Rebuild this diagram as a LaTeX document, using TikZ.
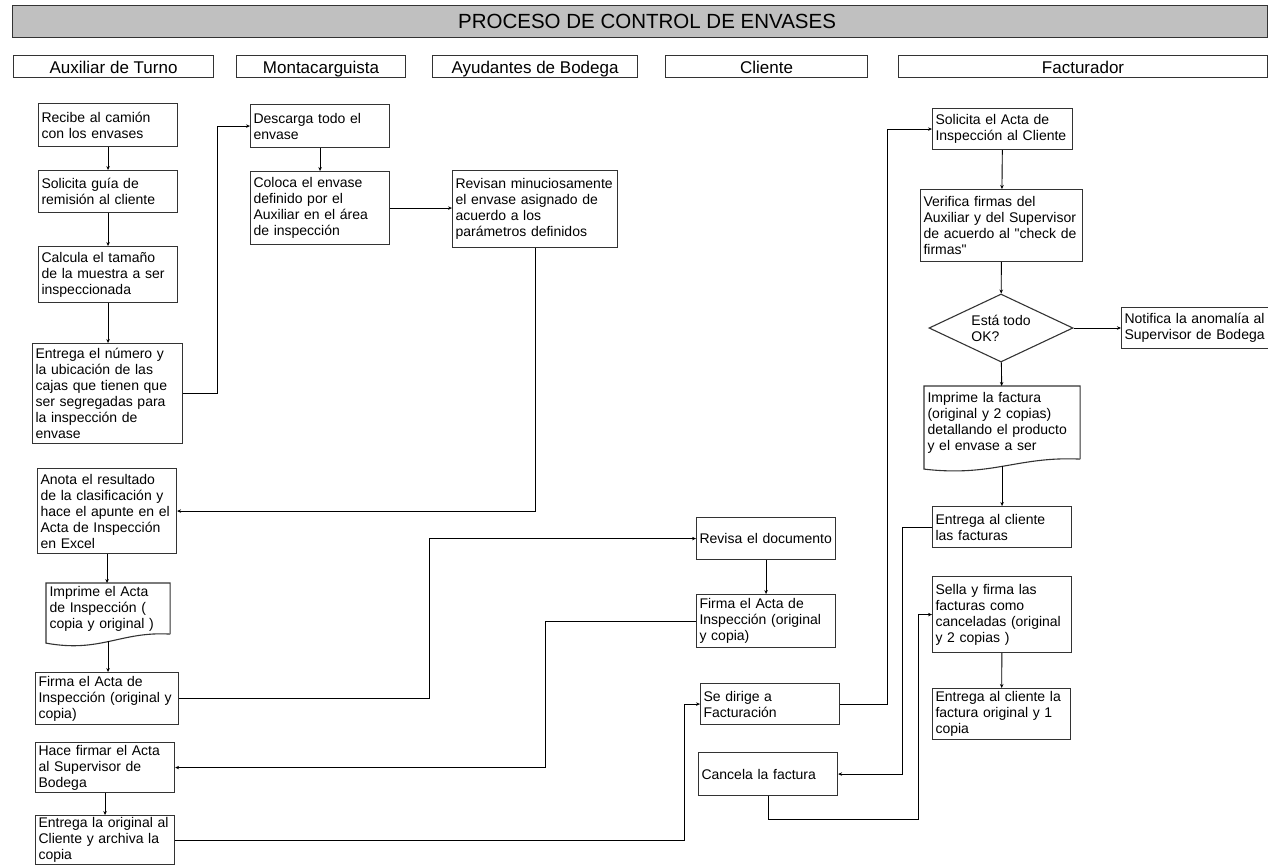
\documentclass[tikz,border=0pt]{standalone}
\usepackage{fontspec}
\setmainfont{Liberation Sans}[Ligatures=TeXOff]
\usetikzlibrary{arrows.meta,shapes.geometric,calc}

\definecolor{titlegray}{RGB}{192,192,192}

\begin{document}
\begin{tikzpicture}[%
    x=1pt, y=-1pt,
    line width=0.9pt,
    banner/.style={%
        draw=black!80,
        line width=1.1pt,
        fill=titlegray,
        anchor=north west,
        minimum height=32pt,
        inner sep=0pt,
        font=\fontsize{20.5}{23}\selectfont
    },
    lane/.style={%
        draw=black!80,
        line width=1.1pt,
        anchor=north west,
        minimum height=22pt,
        inner sep=0pt,
        text height=15pt,
        text depth=2pt,
        font=\fontsize{17}{19}\selectfont
    },
    stepbox/.style={%
        draw=black!80,
        line width=1.1pt,
        rectangle,
        anchor=north west,
        align=left,
        inner xsep=3pt,
        inner ysep=2pt,
        font=\fontsize{14}{16}\selectfont
    },
    docbox/.style={%
        stepbox,
        draw=none
    },
    docline/.style={%
        draw=black!80,
        line width=1.1pt
    },
    decision/.style={%
        draw=black!80,
        line width=1.1pt,
        diamond,
        aspect=2.1,
        minimum width=144pt,
        minimum height=68pt,
        inner sep=0pt,
        align=left,
        font=\fontsize{14}{16}\selectfont
    },
    >={Stealth[length=4pt,width=3.5pt]}
]
\useasboundingbox (0,0) rectangle (1268,865);

% Title and lanes
    \node[banner, minimum width=1255pt] (title) at (12,5) {\hspace*{14pt}PROCESO DE CONTROL DE ENVASES};
    \node[lane, minimum width=200pt] (auxiliar) at (13,55) {Auxiliar de Turno};
    \node[lane, minimum width=169pt] (montacarga) at (236,55) {Montacarguista};
    \node[lane, minimum width=205pt] (ayudantes) at (432,55) {Ayudantes de Bodega};
    \node[lane, minimum width=202pt] (cliente) at (665,55) {Cliente};
    \node[lane, minimum width=369pt] (facturador) at (898,55) {Facturador};

% Auxiliar de Turno
    \node[stepbox, minimum width=139pt, minimum height=43pt, text width=133pt] (recibe) at (38,103) {Recibe al camión\\con los envases};
    \node[stepbox, minimum width=139pt, minimum height=42pt, text width=133pt] (guia) at (38,170) {Solicita guía de\\remisión al cliente};
    \node[stepbox, minimum width=139pt, minimum height=56pt, text width=133pt] (calcula) at (38,246) {Calcula el tamaño\\de la muestra a ser\\inspeccionada};
    \node[stepbox, minimum width=150pt, minimum height=100pt, text width=144pt] (ubicacion) at (32,343) {Entrega el número y\\la ubicación de las\\cajas que tienen que\\ser segregadas para\\la inspección de\\envase};
    \node[stepbox, minimum width=139pt, minimum height=85pt, text width=133pt] (anota) at (37,468) {Anota el resultado\\de la clasificación y\\hace el apunte en el\\Acta de Inspección\\en Excel};
    \node[docbox, minimum width=123pt, minimum height=50pt, text width=117pt] (imprimeacta) at (46,583) {Imprime el Acta\\de Inspección (\\copia y original )};
    \node[stepbox, minimum width=143pt, minimum height=52pt, text width=137pt] (firmaaux) at (35,672) {Firma el Acta de\\Inspección (original y\\copia)};
    \node[stepbox, minimum width=139pt, minimum height=50pt, text width=133pt] (hacefirmar) at (35,742) {Hace firmar el Acta\\al Supervisor de\\Bodega};
    \node[stepbox, minimum width=139pt, minimum height=49pt, text width=133pt] (original) at (35,815) {Entrega la original al\\Cliente y archiva la\\copia};

% Montacarguista
    \node[stepbox, minimum width=139pt, minimum height=43pt, text width=133pt] (descarga) at (250,104) {Descarga todo el\\envase};
    \node[stepbox, minimum width=139pt, minimum height=73pt, text width=133pt] (coloca) at (250,171) {Coloca el envase\\definido por el\\Auxiliar en el área\\de inspección};

% Ayudantes de Bodega
    \node[stepbox, minimum width=165pt, minimum height=77pt, text width=159pt] (revisan) at (452,170) {Revisan minuciosamente\\el envase asignado de\\acuerdo a los\\parámetros definidos};

% Cliente
    \node[stepbox, minimum width=139pt, minimum height=42pt, text width=133pt] (revisa) at (696,517) {Revisa el documento};
    \node[stepbox, minimum width=139pt, minimum height=53pt, text width=133pt] (firmacli) at (696,594) {Firma el Acta de\\Inspección (original\\y copia)};
    \node[stepbox, minimum width=139pt, minimum height=41pt, text width=133pt] (sedirige) at (700,683) {Se dirige a\\Facturación};
    \node[stepbox, minimum width=139pt, minimum height=43pt, text width=133pt] (cancela) at (698,752) {Cancela la factura};

% Facturador
    \node[stepbox, minimum width=140pt, minimum height=41pt, text width=134pt] (solacta) at (932,108) {Solicita el Acta de\\Inspección al Cliente};
    \node[stepbox, minimum width=162pt, minimum height=72pt, text width=156pt] (verifica) at (920,189) {Verifica firmas del\\Auxiliar y del Supervisor\\de acuerdo al "check de\\firmas"};
    \node[decision] (todook) at (1001,328) {Está todo\\OK?};
    \node[stepbox, minimum height=41pt, text width=152pt] (notifica) at (1121,307) {Notifica la anomalía al\\Supervisor de Bodega};
    \node[docbox, minimum width=155pt, minimum height=72pt, text width=149pt] (imprimefact) at (924,386) {Imprime la factura\\(original y 2 copias)\\detallando el producto\\y el envase a ser};
    \node[stepbox, minimum width=139pt, minimum height=41pt, text width=133pt] (entregafact) at (932,506) {Entrega al cliente\\las facturas};
    \node[stepbox, minimum width=139pt, minimum height=76pt, text width=133pt] (sella) at (932,576) {Sella y firma las\\facturas como\\canceladas (original\\y 2 copias )};
    \node[stepbox, minimum width=138pt, minimum height=51pt, text width=132pt] (entregacli) at (932,688) {Entrega al cliente la\\factura original y 1\\copia};

% Document outlines
\draw[docline] (imprimeacta.south east) -- (imprimeacta.north east) -- (imprimeacta.north west) -- ([yshift=-9pt]imprimeacta.south west)
    .. controls ([yshift=-19pt]$(imprimeacta.south west)!0.44!(imprimeacta.south east)$) and ([yshift=3pt]$(imprimeacta.south east)!0.4!(imprimeacta.south west)$) .. (imprimeacta.south east);
\draw[docline] (imprimefact.south east) -- (imprimefact.north east) -- (imprimefact.north west) -- ([yshift=-10pt]imprimefact.south west)
    .. controls ([yshift=-18pt]$(imprimefact.south west)!0.44!(imprimefact.south east)$) and ([yshift=3pt]$(imprimefact.south east)!0.4!(imprimefact.south west)$) .. (imprimefact.south east);

% Arrows
\draw[->] (recibe) -- (guia);
\draw[->] (guia) -- (calcula);
\draw[->] (calcula.south) -- (calcula.south |- ubicacion.north);
\draw[->] (ubicacion.east) -- ++(34,0) |- (descarga.west);

\draw[->] (descarga) -- (coloca);
\draw[->] (coloca.east) -- (coloca.east -| revisan.west);
\draw[->] (revisan.south) |- (anota.east);

\draw[->] (anota.south) -- (anota.south |- imprimeacta.north);
\draw[->] ([yshift=-7pt]imprimeacta.south) -- (imprimeacta.south |- firmaaux.north);
\draw[->] (firmaaux.east) -- ++(250,0) |- (revisa.west);
\draw[->] (revisa) -- (firmacli);
\draw[->] (firmacli.west) -- ++(-151,0) |- (hacefirmar.east);
\draw[->] (hacefirmar) -- (original);
\draw[->] (original.east) -- ++(509,0) |- (sedirige.west);
\draw[->] (sedirige.east) -- ++(47,0) |- (solacta.west);

\draw[->] (solacta) -- (verifica);
\draw[->] (verifica) -- (todook);
\draw[->] (todook.east) -- (todook.east -| notifica.west);
\draw[->] (todook) -- (imprimefact);
\draw[->] ([yshift=-7pt]imprimefact.south) -- (imprimefact.south |- entregafact.north);
\draw[->] (entregafact.west) -- ++(-30,0) |- (cancela.east);
\draw[->] (cancela.south) -- ++(0,23) -| ([xshift=-14pt]sella.west) -- (sella.west);
\draw[->] (sella) -- (entregacli);

\end{tikzpicture}
\end{document}
